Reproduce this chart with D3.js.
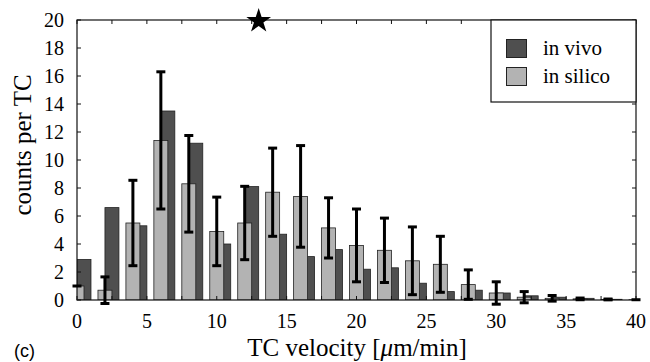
<!DOCTYPE html>
<html>
<head>
<meta charset="utf-8">
<script src="https://cdn.jsdelivr.net/npm/d3@7"></script>
<style>
  body { margin: 0; background: white; }
  svg { display: block; }
</style>
</head>
<body>
<div id="chart"></div>
<script>
// bin centres (TC velocity, um/min)
const bins = [0, 2, 4, 6, 8, 10, 12, 14, 16, 18, 20, 22, 24, 26, 28, 30, 32, 34, 36, 38, 40];
// in vivo counts
const inVivo = [2.9, 6.6, 5.3, 13.5, 11.2, 4.0, 8.1, 4.7, 3.1, 3.6, 2.2, 2.3, 1.2, 0.6, 0.7, 0.5, 0.3, 0.2, 0.12, 0.05, 0];
// in silico mean counts and error
const inSilico = [1.0, 0.7, 5.5, 11.4, 8.3, 4.9, 5.5, 7.7, 7.4, 5.15, 3.9, 3.55, 2.8, 2.55, 1.1, 0.5, 0.2, 0.12, 0.08, 0.04, 0.02];
const silicoErr = [0, 0.95, 3.05, 4.9, 3.45, 2.45, 2.62, 3.15, 3.63, 2.15, 2.6, 2.3, 2.42, 2.0, 1.05, 0.8, 0.4, 0.2, 0.06, 0.03, 0];
const yTicks = [0, 2, 4, 6, 8, 10, 12, 14, 16, 18, 20];
const xLabelTicks = [0, 5, 10, 15, 20, 25, 30, 35, 40];
const xMinorTicks = d3.range(0, 40.01, 2.5);
const starAt = {x: 13, y: 20};
const legendItems = [{name: "in vivo", color: "#4f4f4f"}, {name: "in silico", color: "#b3b3b3"}];

const W = 650, H = 362;
const margin = {top: 20, right: 14, bottom: 62, left: 77};
const width = W - margin.left - margin.right;
const height = H - margin.top - margin.bottom;
const serif = "Liberation Serif, DejaVu Serif, serif";

const svg = d3.select("#chart").append("svg")
    .attr("width", W)
    .attr("height", H);

const g = svg.append("g")
    .attr("transform", `translate(${margin.left},${margin.top})`);

const x = d3.scaleLinear().domain([0, 40]).range([0, width]);
const y = d3.scaleLinear().domain([0, 20]).range([height, 0]);

g.append("defs").append("clipPath")
    .attr("id", "plotClip")
    .append("rect")
    .attr("width", width)
    .attr("height", height);

const data = bins.map((b, i) => ({bin: b, vivo: inVivo[i], silico: inSilico[i], err: silicoErr[i]}));

const bars = g.append("g").attr("clip-path", "url(#plotClip)");

// in vivo bars: from centre to centre + 1
bars.selectAll(".vivo")
    .data(data)
    .enter().append("rect")
    .attr("class", "vivo")
    .attr("x", d => x(d.bin))
    .attr("width", x(1) - x(0))
    .attr("y", d => y(d.vivo))
    .attr("height", d => y(0) - y(d.vivo))
    .attr("fill", legendItems[0].color)
    .attr("stroke", "#222")
    .attr("stroke-width", 0.8);

// in silico bars: centred on bin
bars.selectAll(".silico")
    .data(data)
    .enter().append("rect")
    .attr("class", "silico")
    .attr("x", d => x(d.bin - 0.5))
    .attr("width", x(1) - x(0))
    .attr("y", d => y(d.silico))
    .attr("height", d => y(0) - y(d.silico))
    .attr("fill", legendItems[1].color)
    .attr("stroke", "#222")
    .attr("stroke-width", 0.8);

// frame
g.append("rect")
    .attr("width", width)
    .attr("height", height)
    .attr("fill", "none")
    .attr("stroke", "#111")
    .attr("stroke-width", 1.2);

// inward ticks
const tickLen = 4;
g.selectAll(".ytickL").data(yTicks).enter().append("line")
    .attr("x1", 0).attr("x2", tickLen)
    .attr("y1", d => y(d)).attr("y2", d => y(d))
    .attr("stroke", "#111");
g.selectAll(".ytickR").data(yTicks).enter().append("line")
    .attr("x1", width).attr("x2", width - tickLen)
    .attr("y1", d => y(d)).attr("y2", d => y(d))
    .attr("stroke", "#111");
g.selectAll(".xtickB").data(xMinorTicks).enter().append("line")
    .attr("x1", d => x(d)).attr("x2", d => x(d))
    .attr("y1", height).attr("y2", height - tickLen)
    .attr("stroke", "#111");
g.selectAll(".xtickT").data(xMinorTicks).enter().append("line")
    .attr("x1", d => x(d)).attr("x2", d => x(d))
    .attr("y1", 0).attr("y2", tickLen)
    .attr("stroke", "#111");

// error bars
const capW = 4.5;
const eb = g.append("g").attr("stroke", "#000").attr("stroke-width", 3);
data.forEach(d => {
    const cx = x(d.bin);
    const top = y(d.silico + d.err), bot = y(d.silico - d.err);
    if (d.err > 0) {
        eb.append("line").attr("x1", cx).attr("x2", cx).attr("y1", top).attr("y2", bot);
        eb.append("line").attr("x1", cx - capW).attr("x2", cx + capW).attr("y1", bot).attr("y2", bot);
    }
    eb.append("line").attr("x1", cx - capW).attr("x2", cx + capW).attr("y1", top).attr("y2", top);
});

// tick labels
g.selectAll(".ylab").data(yTicks).enter().append("text")
    .attr("x", -13)
    .attr("y", d => y(d))
    .attr("dy", "0.35em")
    .attr("text-anchor", "end")
    .attr("font-family", serif)
    .attr("font-size", 20)
    .text(d => d);

g.selectAll(".xlab").data(xLabelTicks).enter().append("text")
    .attr("x", d => x(d))
    .attr("y", height + 28)
    .attr("text-anchor", "middle")
    .attr("font-family", serif)
    .attr("font-size", 20)
    .text(d => d);

// star marker
g.append("path")
    .attr("d", d3.symbol(d3.symbolStar, 190)())
    .attr("transform", `translate(${x(starAt.x)},${y(starAt.y) + 1})`)
    .attr("fill", "#000");

// legend
const lg = g.append("g").attr("transform", `translate(${width - 145},0)`);
lg.append("rect")
    .attr("width", 145)
    .attr("height", 82)
    .attr("fill", "white")
    .attr("stroke", "#111")
    .attr("stroke-width", 1.2);
legendItems.forEach((it, i) => {
    lg.append("rect")
        .attr("x", 15.5).attr("y", 19.5 + i * 28)
        .attr("width", 20).attr("height", 18)
        .attr("fill", it.color)
        .attr("stroke", "#222");
    lg.append("text")
        .attr("x", 52).attr("y", 35 + i * 28)
        .attr("font-family", serif)
        .attr("font-size", 21)
        .text(it.name);
});

// axis titles
svg.append("text")
    .attr("transform", `translate(31,${margin.top + 125}) rotate(-90)`)
    .attr("text-anchor", "middle")
    .attr("font-family", serif)
    .attr("font-size", 25)
    .text("counts per TC");

svg.append("text")
    .attr("x", 357)
    .attr("y", 356)
    .attr("text-anchor", "middle")
    .attr("font-family", serif)
    .attr("font-size", 25)
    .html("TC velocity [<tspan font-style='italic'>μ</tspan>m/min]");

svg.append("text")
    .attr("x", 14)
    .attr("y", 357)
    .attr("font-family", "Liberation Sans, Arial, sans-serif")
    .attr("font-size", 18)
    .text("(c)");
</script>
</body>
</html>
